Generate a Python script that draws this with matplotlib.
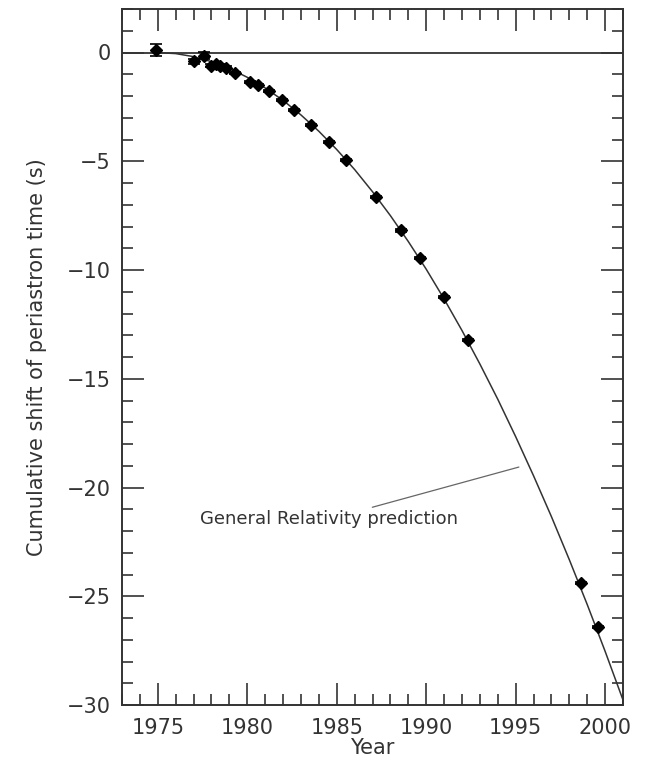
import matplotlib
matplotlib.use("Agg")
import matplotlib.pyplot as plt
from matplotlib.ticker import MultipleLocator

# Measured periastron shift data (year, seconds)
years = [1974.9, 1977.0, 1977.6, 1978.0, 1978.25, 1978.47, 1978.84, 1979.31,
         1980.15, 1980.62, 1981.21, 1981.92, 1982.63, 1983.59, 1984.57,
         1985.54, 1987.22, 1988.62, 1989.65, 1991.01, 1992.35, 1998.64, 1999.61]
shift = [0.12, -0.41, -0.14, -0.60, -0.52, -0.60, -0.70, -0.93,
         -1.36, -1.48, -1.78, -2.20, -2.63, -3.35, -4.12,
         -4.96, -6.65, -8.18, -9.45, -11.24, -13.23, -24.40, -26.43]
errors = [0.28, 0.12, 0.17, 0.08, 0.08, 0.06, 0.06, 0.05,
          0.05, 0.05, 0.05, 0.05, 0.05, 0.05, 0.05,
          0.05, 0.05, 0.05, 0.05, 0.05, 0.05, 0.05, 0.05]

# General Relativity prediction curve
gr_years = [1974.9, 1976, 1977, 1978, 1979, 1980, 1981, 1982, 1983, 1984, 1985,
            1986, 1987, 1988, 1989, 1990, 1991, 1992, 1993, 1994, 1995, 1996,
            1997, 1998, 1999, 2000, 2001, 2001.1]
gr_shift = [0.0, -0.05, -0.19, -0.42, -0.73, -1.14, -1.63, -2.20, -2.87, -3.62,
            -4.46, -5.38, -6.40, -7.50, -8.69, -9.96, -11.33, -12.78, -14.32,
            -15.94, -17.66, -19.46, -21.34, -23.32, -25.38, -27.53, -29.77, -30.0]

label_text = "General Relativity prediction"
xlabel = "Year"
ylabel = "Cumulative shift of periastron time (s)"

ink = "#333333"
plt.rcParams['font.family'] = ['DejaVu Sans']

fig = plt.figure(figsize=(6.5, 7.61), dpi=100)
ax = fig.add_axes([122/650, 56/761, 501/650, 696/761])

ax.axhline(0, color=ink, lw=1.3, zorder=1)
ax.plot(gr_years, gr_shift, color=ink, lw=1.1, zorder=2)
ax.errorbar(years, shift, yerr=errors, fmt='D', color='black', ms=6,
            ecolor='black', elinewidth=1.2, capsize=4, capthick=1.2, zorder=3)

ax.annotate(label_text, xy=(1995.18, -19.06), xytext=(1991.8, -21.45),
            ha='right', va='center', fontsize=13, color=ink,
            arrowprops=dict(arrowstyle='-', color='#666666', lw=0.9,
                            shrinkA=0, shrinkB=0))

ax.set_xlim(1973, 2001)
ax.set_ylim(-30, 2)
ax.xaxis.set_major_locator(MultipleLocator(5))
ax.xaxis.set_minor_locator(MultipleLocator(1))
ax.yaxis.set_major_locator(MultipleLocator(5))
ax.yaxis.set_minor_locator(MultipleLocator(1))

ax.tick_params(which='both', direction='in', top=True, right=True,
               color=ink, width=1.2)
ax.tick_params(which='major', length=16, labelsize=15, labelcolor=ink)
ax.tick_params(axis='x', which='major', pad=9)
ax.tick_params(axis='y', which='major', pad=8)
ax.tick_params(which='minor', length=8)
for s in ax.spines.values():
    s.set_color(ink)
    s.set_linewidth(1.4)

ax.set_xlabel(xlabel, fontsize=15, color=ink, labelpad=0)
ax.set_ylabel(ylabel, fontsize=15, color=ink, labelpad=14)

fig.savefig("out.png", dpi=100)
